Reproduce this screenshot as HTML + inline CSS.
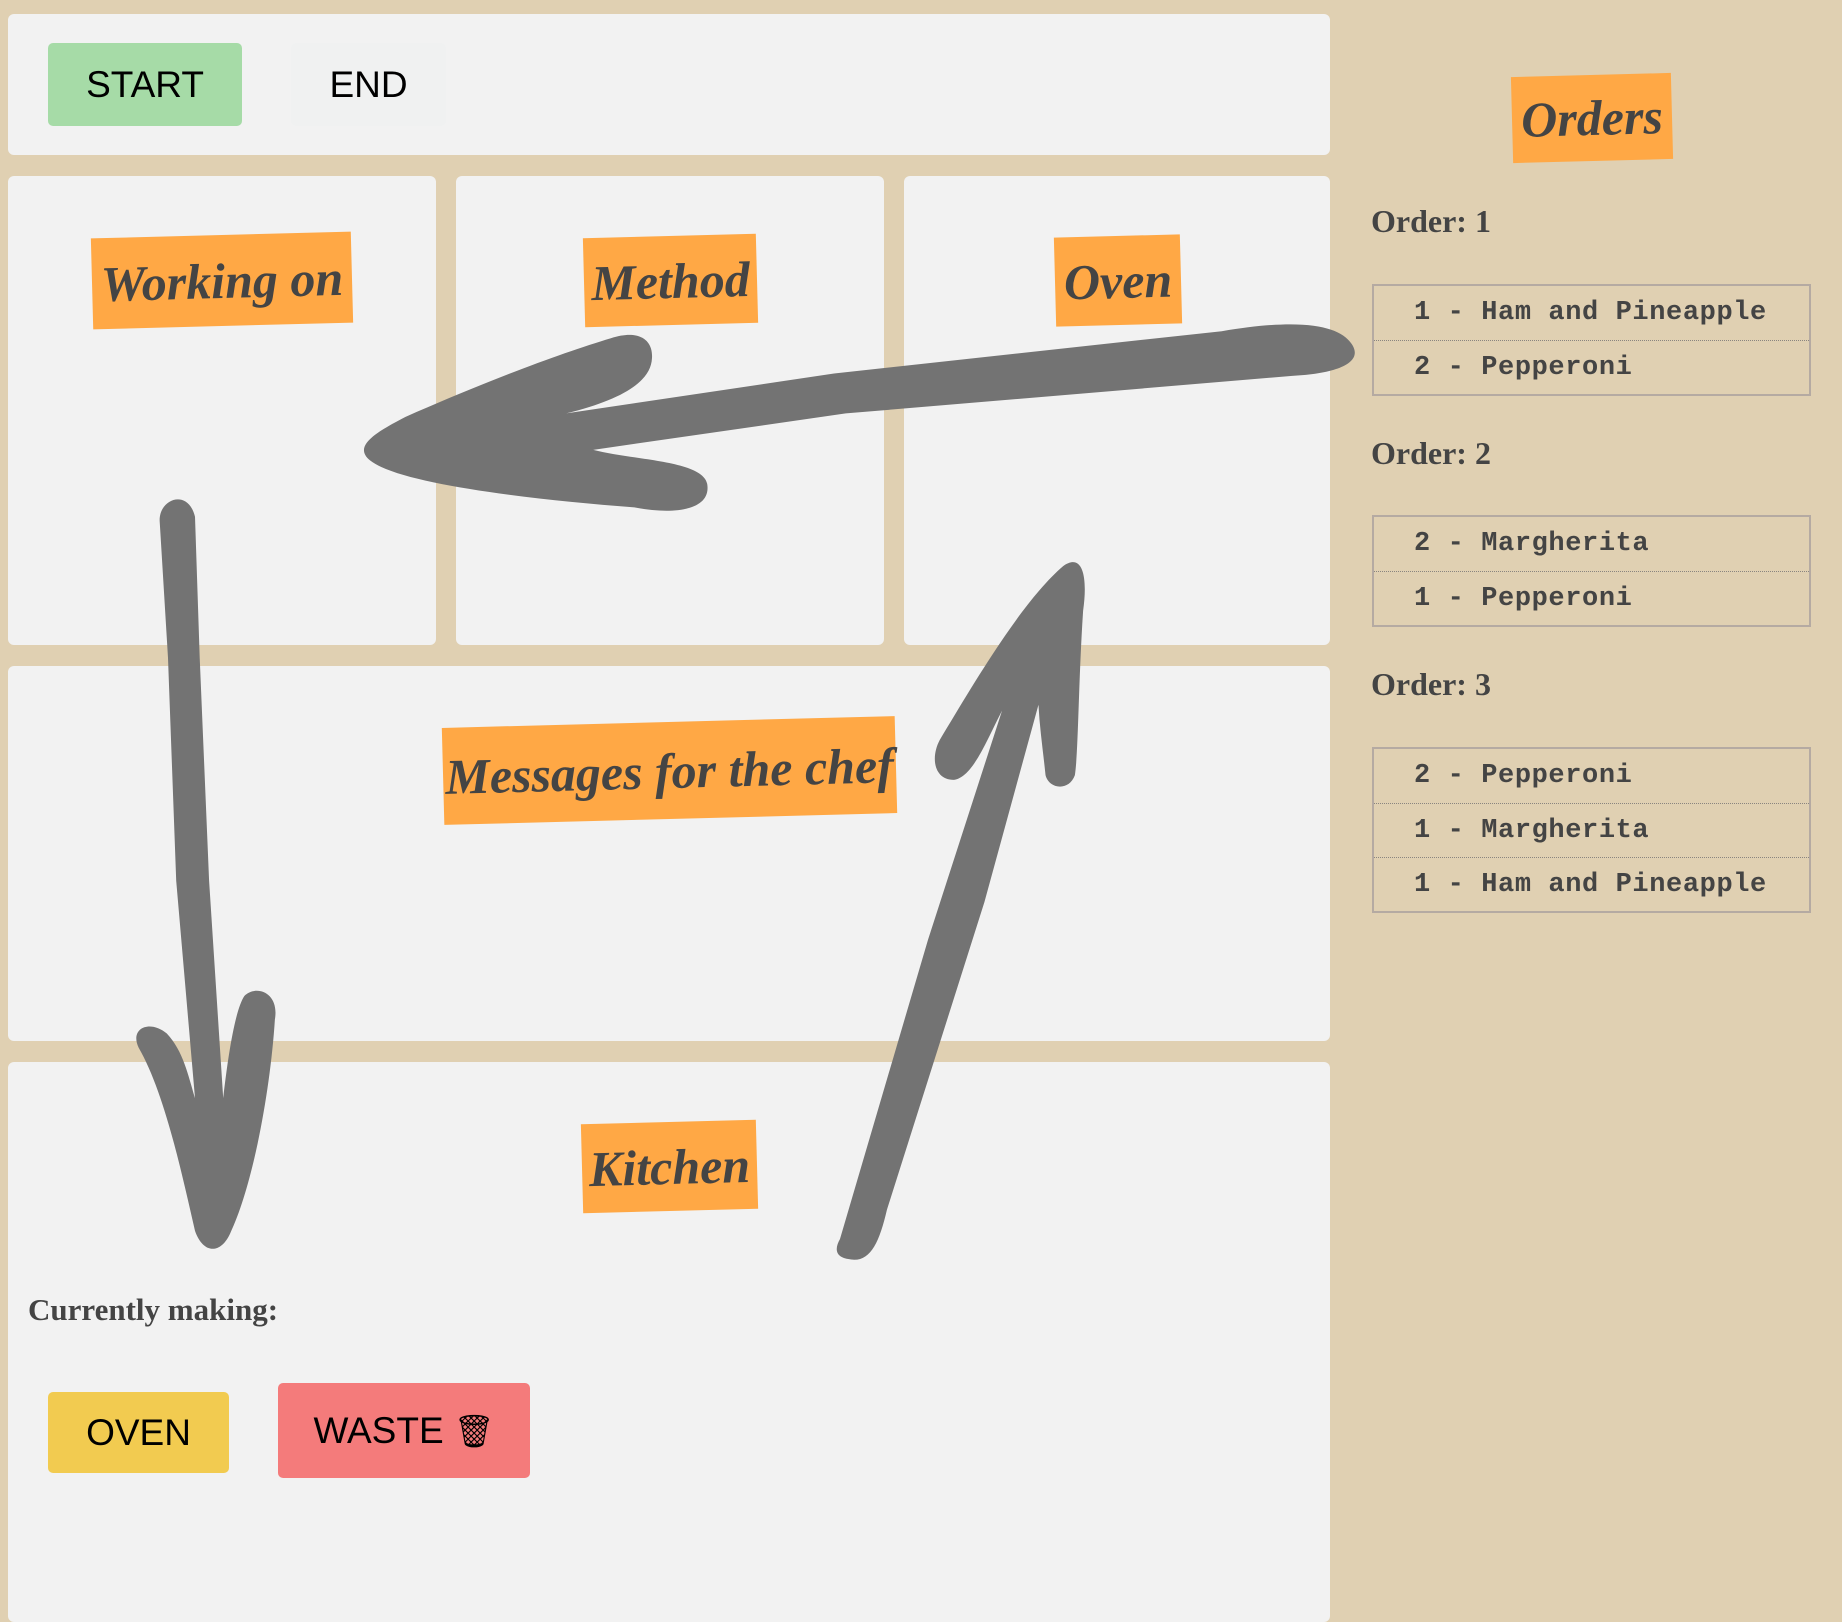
<!DOCTYPE html>
<html><head><meta charset="utf-8"><style>
html,body{margin:0;padding:0}
body{width:1842px;height:1602px;background:#e0d0b2;position:relative;overflow:hidden;font-family:"Liberation Sans",sans-serif}
.p{position:absolute;background:#f2f2f2;border-radius:6px}
.btn{position:absolute;display:flex;align-items:center;justify-content:center;font-size:37px;color:#000;border-radius:5px}
.st{position:absolute;background:#ffa845;color:#444;font-family:"Liberation Serif",serif;font-style:italic;font-weight:bold;display:flex;align-items:center;justify-content:center;font-size:50px;transform:rotate(-1.5deg)}
.oh{position:absolute;left:1371px;font-family:"Liberation Serif",serif;font-weight:bold;font-size:32px;color:#444}
.tb{position:absolute;left:1372px;width:439px;border:2px solid #b5aaa2;box-sizing:border-box}
.tb div{height:54px;line-height:54px;padding-left:40px;font-family:"Liberation Mono",monospace;font-weight:bold;font-size:27px;letter-spacing:0.6px;color:#444;border-top:1px dotted #8a8580;box-sizing:border-box;white-space:pre}
.tb div:first-child{border-top:none}
</style></head><body>
<div class="p" style="left:8px;top:14px;width:1322px;height:141px"></div>
<div class="btn" style="left:48px;top:43px;width:194px;height:83px;background:#a6dba7">START</div>
<div class="btn" style="left:291px;top:43px;width:155px;height:83px;background:#f0f1f1">END</div>

<div class="p" style="left:8px;top:176px;width:428px;height:469px"></div>
<div class="p" style="left:456px;top:176px;width:428px;height:469px"></div>
<div class="p" style="left:904px;top:176px;width:426px;height:469px"></div>
<div class="p" style="left:8px;top:666px;width:1322px;height:375px"></div>
<div class="p" style="left:8px;top:1062px;width:1322px;height:560px"></div>

<div class="st" style="left:92px;top:235px;width:260px;height:91px">Working on</div>
<div class="st" style="left:584px;top:236px;width:173px;height:89px">Method</div>
<div class="st" style="left:1055px;top:236px;width:126px;height:89px">Oven</div>
<div class="st" style="left:443px;top:722px;width:453px;height:97px">Messages for the chef</div>
<div class="st" style="left:582px;top:1122px;width:175px;height:89px">Kitchen</div>
<div class="st" style="left:1512px;top:75px;width:160px;height:86px">Orders</div>

<div style="position:absolute;left:28px;top:1292px;font-family:'Liberation Serif',serif;font-weight:bold;font-size:31px;color:#444">Currently making:</div>
<div class="btn" style="left:48px;top:1392px;width:181px;height:81px;background:#f2cb50">OVEN</div>
<div class="btn" style="left:278px;top:1383px;width:252px;height:95px;background:#f47b7b">WASTE&nbsp;<span style="font-size:32px">🗑</span></div>

<div class="oh" style="top:203px">Order: 1</div>
<div class="tb" style="top:284px"><div>1 - Ham and Pineapple</div><div>2 - Pepperoni</div></div>
<div class="oh" style="top:435px">Order: 2</div>
<div class="tb" style="top:515px"><div>2 - Margherita</div><div>1 - Pepperoni</div></div>
<div class="oh" style="top:666px">Order: 3</div>
<div class="tb" style="top:747px"><div>2 - Pepperoni</div><div>1 - Margherita</div><div>1 - Ham and Pineapple</div></div>

<svg style="position:absolute;left:0;top:0" width="1842" height="1602" viewBox="0 0 1568 1364" preserveAspectRatio="none">
<g fill="#737373">
<path d="M1150,292 C1162,308 1140,318 1100,320 L720,352 L505,383 C540,392 598,392 602,412 C606,436 570,438 540,432 C450,425 340,412 315,392 C300,380 320,368 345,355 C420,322 480,300 520,288 C545,280 556,290 555,305 C554,325 530,340 482,352 L710,318 L1040,282 C1110,270 1140,278 1150,292 Z"/>
<path d="M136,445 C134,425 160,415 166,440 L170,560 L178,750 L190,935 C194,900 200,860 208,848 C218,838 238,845 234,868 C230,930 215,1010 196,1050 C188,1068 173,1068 166,1048 C155,1000 140,930 118,892 C110,875 128,868 142,880 C156,895 160,915 166,935 L150,750 L143,560 Z"/>
<path d="M715,1055 L790,800 L853,605 C840,630 828,662 812,664 C795,664 792,645 800,630 C830,580 870,512 905,482 C922,470 926,492 922,520 C918,580 918,640 915,660 C910,674 893,672 890,660 C888,640 885,620 884,600 L838,768 L755,1030 C748,1060 740,1076 722,1072 C710,1070 711,1062 715,1055 Z"/>
</g>
</svg>
</body></html>
